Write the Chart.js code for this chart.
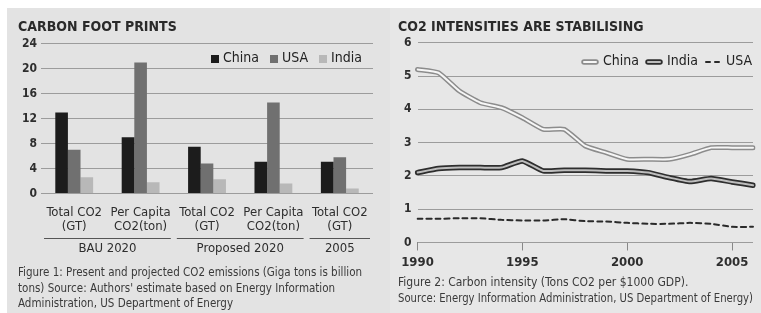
<!DOCTYPE html>
<html>
<head>
<meta charset="utf-8">
<script src="https://cdn.jsdelivr.net/npm/chart.js@4.4.1/dist/chart.umd.min.js"></script>
<style>
  html, body { margin: 0; padding: 0; background: #fff; }
  #wrap { position: relative; width: 761px; height: 313px; overflow: hidden; }
  .panel { position: absolute; top: 8px; height: 305px; }
  #p1 { left: 7px; width: 383px; background: #e3e3e3; }
  #p2 { left: 390px; width: 371px; background: #e7e7e7; }
</style>
</head>
<body>
<div id="wrap">
  <div class="panel" id="p1"><canvas id="chart-foot" width="383" height="305"></canvas></div>
  <div class="panel" id="p2"><canvas id="chart-intensity" width="371" height="305"></canvas></div>
</div>
<script>
// datos - figura 1
const footCategories = [['Total CO2', '(GT)'], ['Per Capita', 'CO2(ton)'], ['Total CO2', '(GT)'], ['Per Capita', 'CO2(ton)'], ['Total CO2', '(GT)']];
const footGroups = ['BAU 2020', 'Proposed 2020', '2005'];
const footGroupSpans = [[0, 1], [2, 3], [4, 4]];
const chinaFoot = [13, 9, 7.5, 5.1, 5.1];
const usaFoot = [7, 21, 4.8, 14.6, 5.8];
const indiaFoot = [2.6, 1.8, 2.3, 1.6, 0.8];

// datos - figura 2
const years = [1990, 1991, 1992, 1993, 1994, 1995, 1996, 1997, 1998, 1999, 2000, 2001, 2002, 2003, 2004, 2005, 2006];
const chinaIntensity = [5.2, 5.1, 4.55, 4.2, 4.05, 3.75, 3.4, 3.4, 2.9, 2.7, 2.5, 2.5, 2.5, 2.65, 2.85, 2.85, 2.85];
const indiaIntensity = [2.1, 2.22, 2.25, 2.25, 2.25, 2.45, 2.15, 2.17, 2.17, 2.15, 2.15, 2.1, 1.95, 1.83, 1.92, 1.82, 1.72];
const usaIntensity = [0.71, 0.71, 0.73, 0.73, 0.68, 0.66, 0.66, 0.7, 0.64, 0.63, 0.59, 0.56, 0.56, 0.59, 0.56, 0.47, 0.47];

const F = '"DejaVu Sans Condensed", "Liberation Sans Narrow", "DejaVu Sans", sans-serif';
const TXT = '#2e2e2e';
const GRID = '#9c9c9c';

// etiquetas de grupo debajo del eje x
const groupLabels = {
    id: 'groupLabels',
    afterDraw(chart) {
        const { ctx, chartArea } = chart;
        const x = chart.scales.x;
        const half = (x.getPixelForValue(1) - x.getPixelForValue(0)) / 2;
        const lineY = Math.round(chartArea.bottom + 45) + 0.5;
        ctx.save();
        ctx.strokeStyle = '#555';
        ctx.lineWidth = 1;
        ctx.fillStyle = TXT;
        ctx.font = '13px ' + F;
        ctx.textAlign = 'center';
        ctx.textBaseline = 'middle';
        footGroupSpans.forEach(([a, b], i) => {
            const l = x.getPixelForValue(a) - half + 3;
            const r = x.getPixelForValue(b) + half - 3;
            ctx.beginPath();
            ctx.moveTo(l, lineY);
            ctx.lineTo(r, lineY);
            ctx.stroke();
            ctx.fillText(footGroups[i], (l + r) / 2, lineY + 10);
        });
        ctx.restore();
    }
};

// leyenda horizontal dentro del area del grafico (arriba a la derecha)
const insideLegend = {
    id: 'insideLegend',
    afterDraw(chart, args, opts) {
        const { ctx, chartArea } = chart;
        const y = chartArea.top + opts.offsetY;
        let x = chartArea.right - opts.right;
        ctx.save();
        ctx.font = opts.fontSize + 'px ' + F;
        ctx.textBaseline = 'middle';
        ctx.textAlign = 'left';
        for (let i = opts.items.length - 1; i >= 0; i--) {
            const it = opts.items[i];
            x -= ctx.measureText(it.text).width;
            ctx.fillStyle = '#222';
            ctx.fillText(it.text, x, y);
            x -= opts.gap;
            if (it.swatch) {
                x -= it.swatch.width;
                ctx.drawImage(it.swatch, Math.round(x), Math.round(y - it.swatch.height / 2));
            } else {
                x -= opts.box;
                ctx.fillStyle = it.color;
                ctx.fillRect(Math.round(x), Math.round(y - opts.box / 2), opts.box, opts.box);
            }
            x -= opts.itemGap;
        }
        ctx.restore();
    }
};

const footDatasets = [
    { label: 'China', data: chinaFoot, backgroundColor: '#1c1c1c' },
    { label: 'USA', data: usaFoot, backgroundColor: '#707070' },
    { label: 'India', data: indiaFoot, backgroundColor: '#b8b8b8' }
];

new Chart(document.getElementById('chart-foot'), {
    type: 'bar',
    data: { labels: footCategories, datasets: footDatasets },
    options: {
        responsive: false,
        animation: false,
        layout: { padding: { left: 11, right: 17, top: 0, bottom: 0 } },
        datasets: { bar: { categoryPercentage: 0.57, barPercentage: 1 } },
        scales: {
            x: {
                grid: { display: false, drawTicks: false },
                border: { display: false },
                ticks: { color: TXT, font: { family: F, size: 13, lineHeight: 1.1 }, padding: 12, maxRotation: 0, autoSkip: false }
            },
            y: {
                min: 0, max: 24,
                ticks: { stepSize: 4, color: TXT, font: { family: F, size: 12, weight: 'bold' }, padding: 4 },
                grid: { color: GRID, drawTicks: false },
                border: { display: false }
            }
        },
        plugins: {
            title: {
                display: true, text: 'CARBON FOOT PRINTS', align: 'start', color: '#2a2a2a',
                font: { family: F, size: 14, weight: 'bold' }, padding: { top: 11, bottom: 8 }
            },
            subtitle: {
                display: true, position: 'bottom', align: 'start', color: '#3a3a3a',
                text: ['Figure 1: Present and projected CO2 emissions (Giga tons is billion',
                       'tons) Source: Authors\' estimate based on Energy Information',
                       'Administration, US Department of Energy'],
                font: { family: F, size: 11.5, lineHeight: 1.36 }, padding: { top: 19, bottom: 1 }
            },
            legend: { display: false },
            insideLegend: {
                offsetY: 15, right: 11, fontSize: 14, gap: 4, itemGap: 11, box: 8,
                items: footDatasets.map(d => ({ text: d.label, color: d.backgroundColor }))
            },
            tooltip: { enabled: false }
        }
    },
    plugins: [groupLabels, insideLegend]
});

// muestras de leyenda (linea doble)
function swatch(outer, inner, dashed) {
    const c = document.createElement('canvas');
    c.width = 18; c.height = 8;
    const g = c.getContext('2d');
    g.lineCap = 'round';
    if (dashed) {
        g.strokeStyle = outer; g.lineWidth = 2;
        g.beginPath(); g.moveTo(2, 4); g.lineTo(6, 4); g.moveTo(11, 4); g.lineTo(15, 4); g.stroke();
        return c;
    }
    g.strokeStyle = outer; g.lineWidth = 5.5;
    g.beginPath(); g.moveTo(3, 4); g.lineTo(15, 4); g.stroke();
    g.strokeStyle = inner; g.lineWidth = 2;
    g.beginPath(); g.moveTo(3, 4); g.lineTo(15, 4); g.stroke();
    return c;
}

const lineBase = { pointRadius: 0, tension: 0.15, borderJoinStyle: 'round', borderCapStyle: 'round', fill: false };

new Chart(document.getElementById('chart-intensity'), {
    type: 'line',
    data: {
        labels: years,
        datasets: [
            { ...lineBase, label: 'China', data: chinaIntensity, borderColor: '#f6f6f6', borderWidth: 2 },
            { ...lineBase, label: 'China', data: chinaIntensity, borderColor: '#8c8c8c', borderWidth: 5 },
            { ...lineBase, label: 'India', data: indiaIntensity, borderColor: '#bdbdbd', borderWidth: 2 },
            { ...lineBase, label: 'India', data: indiaIntensity, borderColor: '#2e2e2e', borderWidth: 5.5 },
            { ...lineBase, label: 'USA', data: usaIntensity, borderColor: '#2a2a2a', borderWidth: 2, borderDash: [5, 4], tension: 0.1 }
        ]
    },
    options: {
        responsive: false,
        animation: false,
        layout: { padding: { left: 8, right: 8, top: 0, bottom: 0 } },
        scales: {
            x: {
                offset: false,
                grid: {
                    drawOnChartArea: false, tickLength: 8,
                    color: ctx => (years[ctx.index] % 5 === 0 ? '#888' : 'transparent')
                },
                border: { display: false },
                ticks: {
                    color: TXT, font: { family: F, size: 13, weight: 'bold' }, padding: 4,
                    maxRotation: 0, autoSkip: false,
                    callback: (v, i) => (years[i] % 5 === 0 ? String(years[i]) : '')
                }
            },
            y: {
                min: 0, max: 6,
                ticks: { stepSize: 1, color: TXT, font: { family: F, size: 12, weight: 'bold' }, padding: 6 },
                grid: { color: GRID, drawTicks: false },
                border: { display: false }
            }
        },
        plugins: {
            title: {
                display: true, text: 'CO2 INTENSITIES ARE STABILISING', align: 'start', color: '#2a2a2a',
                font: { family: F, size: 14, weight: 'bold' }, padding: { top: 11, bottom: 7 }
            },
            subtitle: {
                display: true, position: 'bottom', align: 'start', color: '#3a3a3a',
                text: ['Figure 2: Carbon intensity (Tons CO2 per $1000 GDP).',
                       'Source: Energy Information Administration, US Department of Energy)'],
                font: { family: F, size: 12, lineHeight: 1.33 }, padding: { top: 1, bottom: 6 }
            },
            legend: { display: false },
            insideLegend: {
                offsetY: 19, right: 1, fontSize: 14, gap: 4, itemGap: 6,
                items: [
                    { text: 'China', swatch: swatch('#8c8c8c', '#f6f6f6') },
                    { text: 'India', swatch: swatch('#2e2e2e', '#bdbdbd') },
                    { text: 'USA', swatch: swatch('#2a2a2a', null, true) }
                ]
            },
            tooltip: { enabled: false }
        }
    },
    plugins: [insideLegend]
});
</script>
</body>
</html>
